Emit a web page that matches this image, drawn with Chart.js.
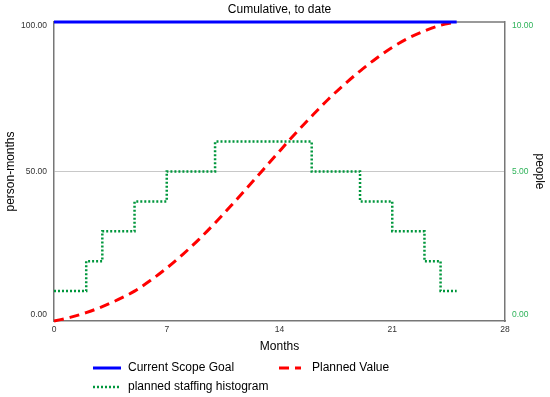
<!DOCTYPE html>
<html>
<head>
    <title>Cumulative, to date</title>
    <script src="https://cdn.jsdelivr.net/npm/chart.js"></script>
    <style>
        body { margin: 0; background: #fff; }
    </style>
</head>
<body>
    <canvas id="chart" width="550" height="397"></canvas>
    <script>
        // data
        const chartTitle = 'Cumulative, to date';
        const pvMonths = [0, 1, 2, 3, 4, 5, 6, 7, 8, 9, 10, 11, 12, 13, 14, 15, 16, 17, 18, 19, 20, 21, 22, 23, 24, 25];
        const plannedValue = [0, 1.2, 2.8, 4.8, 7.2, 10, 13.6, 17.7, 22.3, 27.3, 32.8, 38.6, 44.6, 50.7, 56.8, 62.8, 68.5, 74, 79, 83.6, 87.8, 91.5, 94.6, 97, 98.9, 100];
        const goalMonths = [0, 25];
        const scopeGoal = [100, 100];
        const staffMonths = [0, 2, 3, 5, 7, 10, 16, 19, 21, 23, 24, 25];
        const staffPeople = [1, 2, 3, 4, 5, 6, 5, 4, 3, 2, 1, 1];
        const monthTicks = [0, 7, 14, 21, 28];
        const leftTicks = [0, 50, 100];
        const rightTicks = [0, 5, 10];

        const toPts = (xs, ys) => xs.map((x, i) => ({x: x, y: ys[i]}));
        const font = 'Liberation Sans, Arial, sans-serif';

        // title, top frame line, y tick labels kept inside the frame, two-row legend
        const extras = {
            id: 'extras',
            beforeDatasetsDraw(chart) {
                const {ctx, chartArea: a} = chart;
                ctx.save();
                ctx.strokeStyle = '#777';
                ctx.lineWidth = 1.5;
                ctx.beginPath();
                ctx.moveTo(a.left, a.top);
                ctx.lineTo(a.right, a.top);
                ctx.stroke();
                ctx.restore();
            },
            afterDraw(chart) {
                const {ctx, chartArea: a} = chart;
                ctx.save();
                ctx.fillStyle = '#000';
                ctx.font = '12px ' + font;
                ctx.textAlign = 'center';
                ctx.textBaseline = 'middle';
                ctx.fillText(chartTitle, (a.left + a.right) / 2, 10);

                // y tick labels, nudged inside the plot like the original
                ctx.font = '8.5px ' + font;
                [['y', leftTicks, '#333', 'right', a.left - 7],
                 ['y2', rightTicks, '#2fb35a', 'left', a.right + 7]].forEach(([id, vals, col, al, x]) => {
                    const s = chart.scales[id];
                    ctx.fillStyle = col;
                    ctx.textAlign = al;
                    vals.forEach(v => {
                        const py = Math.min(Math.max(s.getPixelForValue(v), a.top + 4), a.bottom - 6);
                        ctx.fillText(v.toFixed(2), x, py);
                    });
                });

                ctx.fillStyle = '#000';
                ctx.font = '12px ' + font;
                const slots = [[93, 368], [279, 368], [93, 387]];
                chart.data.datasets.forEach((ds, i) => {
                    const [x, y] = slots[i];
                    ctx.strokeStyle = ds.borderColor;
                    ctx.lineWidth = ds.borderWidth;
                    ctx.setLineDash(ds.borderDash || []);
                    ctx.beginPath();
                    ctx.moveTo(x, y);
                    ctx.lineTo(x + (i === 1 ? 22 : 28), y);
                    ctx.stroke();
                    ctx.setLineDash([]);
                    ctx.textAlign = 'left';
                    ctx.fillText(ds.label, x + (i === 1 ? 33 : 35), y);
                });
                ctx.restore();
            }
        };

        const chart = new Chart(document.getElementById('chart').getContext('2d'), {
            type: 'line',
            data: {
                datasets: [{
                    label: 'Current Scope Goal',
                    data: toPts(goalMonths, scopeGoal),
                    borderColor: '#0000ff',
                    borderWidth: 3,
                    yAxisID: 'y',
                    clip: 5
                }, {
                    label: 'Planned Value',
                    data: toPts(pvMonths, plannedValue),
                    borderColor: '#ff0000',
                    borderWidth: 3,
                    borderDash: [10, 6],
                    cubicInterpolationMode: 'monotone',
                    yAxisID: 'y',
                    clip: 5
                }, {
                    label: 'planned staffing histogram',
                    data: toPts(staffMonths, staffPeople),
                    borderColor: '#00963c',
                    borderWidth: 2.5,
                    borderDash: [2, 2],
                    stepped: true,
                    yAxisID: 'y2',
                    clip: 5
                }]
            },
            options: {
                responsive: false,
                animation: false,
                layout: { padding: { top: 22 } },
                elements: { point: { radius: 0 } },
                plugins: {
                    legend: { display: false },
                    title: { display: false },
                    tooltip: { enabled: false }
                },
                scales: {
                    x: {
                        type: 'linear',
                        min: 0,
                        max: 28,
                        afterBuildTicks: s => { s.ticks = monthTicks.map(v => ({value: v})); },
                        afterFit: s => { s.height = 76; },
                        grid: { display: false, drawTicks: false },
                        border: { display: true, color: '#777', width: 1.5 },
                        ticks: { padding: 4, color: '#333', font: { family: font, size: 8.5 } },
                        title: {
                            display: true,
                            text: 'Months',
                            color: '#000',
                            font: { family: font, size: 12 },
                            padding: { top: 0, bottom: 43 }
                        }
                    },
                    y: {
                        position: 'left',
                        min: 0,
                        max: 100,
                        afterBuildTicks: s => { s.ticks = leftTicks.map(v => ({value: v})); },
                        afterFit: s => { s.width = 54; },
                        grid: {
                            drawTicks: false,
                            color: c => c.tick && c.tick.value === 50 ? '#c8c8c8' : 'rgba(0,0,0,0)',
                            lineWidth: 1
                        },
                        border: { display: true, color: '#777', width: 1.5 },
                        ticks: { display: false },
                        title: {
                            display: true,
                            text: 'person-months',
                            color: '#000',
                            font: { family: font, size: 12 },
                            padding: { top: 3, bottom: 0 }
                        }
                    },
                    y2: {
                        position: 'right',
                        min: 0,
                        max: 10,
                        afterBuildTicks: s => { s.ticks = rightTicks.map(v => ({value: v})); },
                        afterFit: s => { s.width = 45; },
                        grid: { display: false, drawTicks: false },
                        border: { display: true, color: '#777', width: 1.5 },
                        ticks: { display: false },
                        title: {
                            display: true,
                            text: 'people',
                            color: '#000',
                            font: { family: font, size: 12 },
                            padding: { top: 3, bottom: 0 }
                        }
                    }
                }
            },
            plugins: [extras]
        });
    </script>
</body>
</html>
